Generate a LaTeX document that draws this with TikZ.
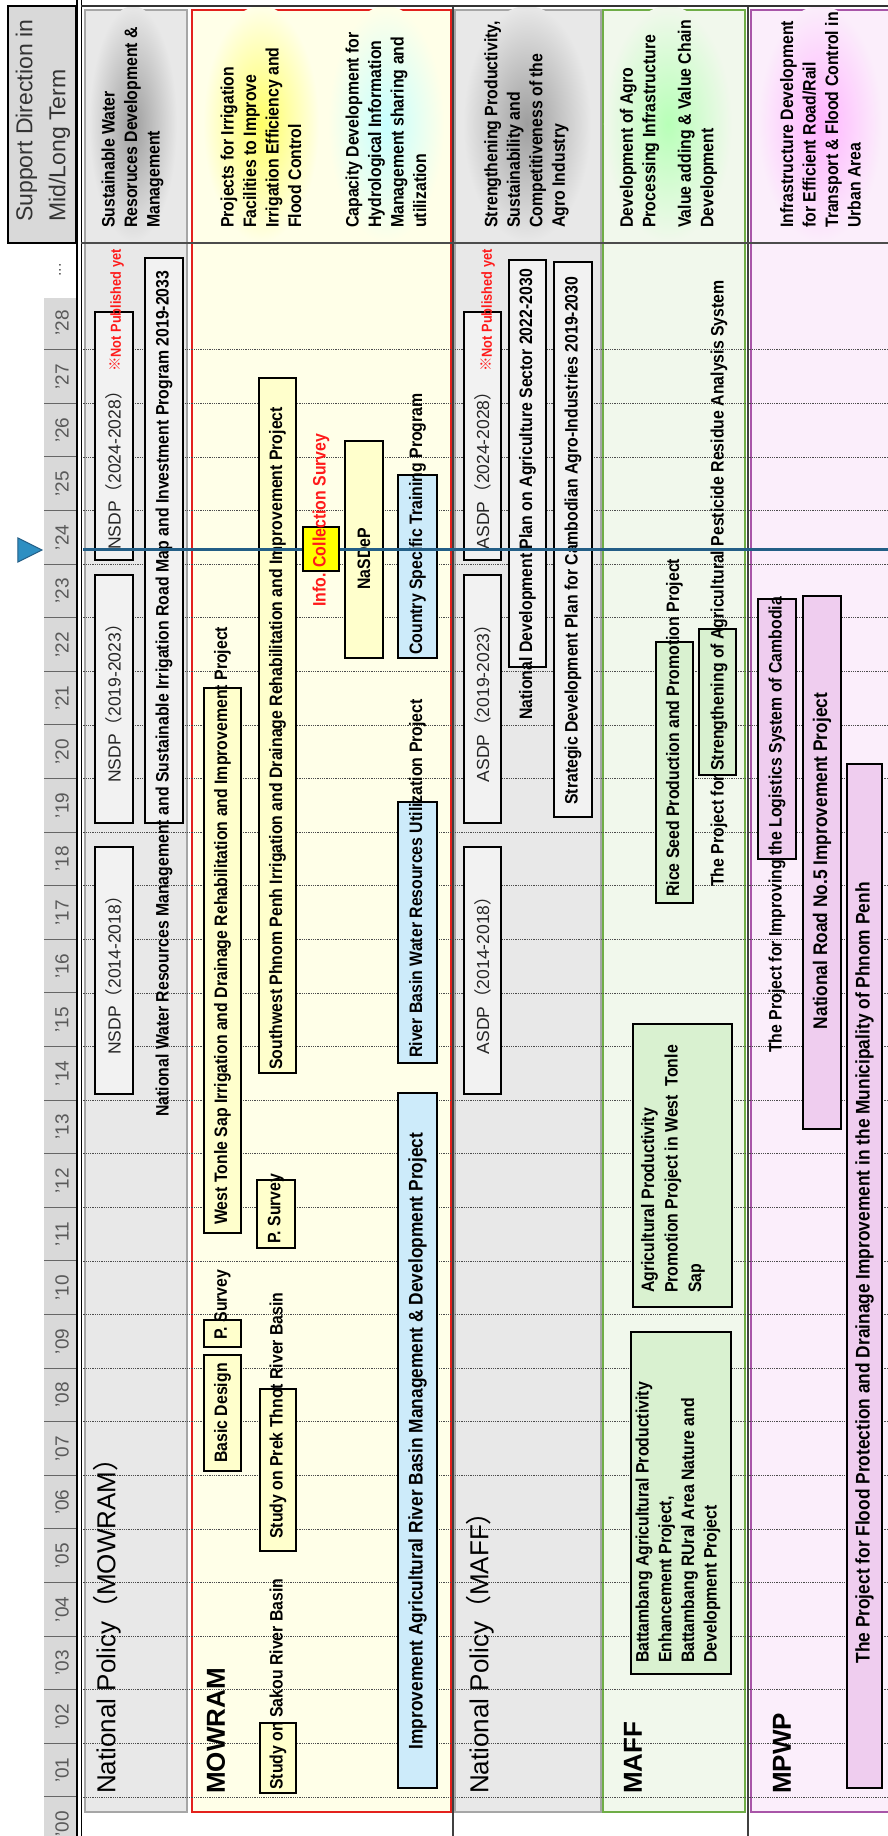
\documentclass[tikz,border=0pt]{standalone}
\usepackage{fontspec}
\setmainfont{Liberation Sans}
\newfontfamily\darfont[FakeStretch=0.88]{Liberation Sans}
\newfontfamily\cjkfont{Noto Sans CJK JP}
\newcommand{\jpL}{{\cjkfont （}}
\newcommand{\jpR}{{\cjkfont ）}}
\definecolor{rowGray}{HTML}{E8E8E8}
\definecolor{rowEdge}{HTML}{A6A6A6}
\definecolor{yearGray}{HTML}{D9D9D9}
\definecolor{yearText}{HTML}{595959}
\definecolor{mowYellow}{HTML}{FFFFE8}
\definecolor{mowRed}{HTML}{E3211C}
\definecolor{boxYellow}{HTML}{FFFFCC}
\definecolor{boxBlue}{HTML}{CDEBFA}
\definecolor{boxGray}{HTML}{F2F2F2}
\definecolor{maffGreen}{HTML}{F1F8EC}
\definecolor{maffEdge}{HTML}{6FAD47}
\definecolor{boxGreen}{HTML}{D9F1D0}
\definecolor{mpwpPink}{HTML}{FBEEFB}
\definecolor{mpwpEdge}{HTML}{A855A8}
\definecolor{boxPink}{HTML}{EFCDEF}
\definecolor{nowBlue}{HTML}{235E86}
\definecolor{markBlue}{HTML}{2E8FC2}
\definecolor{infoYellow}{HTML}{FFFF00}
\definecolor{notRed}{HTML}{FF1A1A}

\begin{document}
\begin{tikzpicture}[x=1pt,y=1pt,rotate=90,transform shape,
  barbox/.style={draw=black,line width=2.2pt},
  proj/.style={inner sep=0pt,font=\darfont\bfseries\fontsize{18}{22}\selectfont},
  projbig/.style={inner sep=0pt,font=\darfont\bfseries\fontsize{19.7}{22}\selectfont},
  headtxt/.style={inner sep=0pt,anchor=west,align=left,font=\darfont\bfseries\fontsize{18}{22.5}\selectfont},
  plan/.style={inner sep=0pt,text=black!85,font=\fontsize{17.5}{20}\selectfont},
  notpub/.style={inner sep=0pt,anchor=west,text=notRed,font=\darfont\bfseries\fontsize{14.5}{16}\selectfont},
  rowlabel/.style={inner sep=0pt,anchor=west,font=\fontsize{26}{30}\selectfont},
  orglabel/.style={inner sep=0pt,anchor=west,font=\bfseries\fontsize{26}{30}\selectfont},
  yearlbl/.style={inner sep=0pt,text=yearText,font=\fontsize{19}{20}\selectfont},
  yearline/.style={densely dotted,line width=0.8pt,black!70}]
\fill[white] (0,0) rectangle (1836,888);
\useasboundingbox (0,0) rectangle (1836,888);

% year band
\fill[yearGray] (0,811) rectangle (1538,844);
\foreach \k in {0,...,27}
  \draw[black!60,line width=1pt] ({39+53.6*\k},811) -- ({39+53.6*\k},844);
\foreach \k in {0,...,28}
  \node[yearlbl] (yr\k) at ({12.2+53.6*\k},826) {'\ifnum\k<10 0\fi\k};
\node[yearlbl,font=\fontsize{16}{18}\selectfont] (dots) at (1566,828) {...};

% rows
\draw[rowEdge,line width=2.5pt,fill=rowGray] (24,701) rectangle (1826,803);
\draw[mowRed,line width=2.5pt,fill=mowYellow] (24,437) rectangle (1826,696);
\draw[rowEdge,line width=2.5pt,fill=rowGray] (24,287) rectangle (1826,433);
\draw[maffEdge,line width=2.5pt,fill=maffGreen] (24,143) rectangle (1826,285);
\draw[mpwpEdge,line width=2.5pt,fill=mpwpPink] (24,-10) rectangle (1826,137);

% glow behind directions
\shade[inner color=black!38,outer color=rowGray] (1712,755) ellipse [x radius=118,y radius=44];
\shade[inner color=yellow!60,outer color=mowYellow] (1712,627) ellipse [x radius=118,y radius=58];
\shade[inner color=cyan!22,outer color=mowYellow] (1712,502) ellipse [x radius=118,y radius=58];
\shade[inner color=black!38,outer color=rowGray] (1712,361) ellipse [x radius=118,y radius=64];
\shade[inner color=green!28,outer color=maffGreen] (1712,220) ellipse [x radius=118,y radius=64];
\shade[inner color=magenta!30,outer color=mpwpPink] (1712,68) ellipse [x radius=118,y radius=62];

% grid
\foreach \k in {0,...,27}
  \draw[yearline] ({39+53.6*\k},0) -- ({39+53.6*\k},807);
\draw[black!75,line width=1.3pt] (0,435) -- (1830,435);
\draw[black!75,line width=1.6pt] (0,140) -- (1830,140);
\draw[black,line width=1.2pt] (0,811) -- (1836,811);
\draw[black,line width=1.2pt] (0,806.5) -- (1836,806.5);
\draw[black!80,line width=1.5pt] (1830,0) -- (1830,807);
\draw[black!70,line width=1.5pt] (1593,0) -- (1593,807);

% header
\draw[black,line width=2pt,fill=yearGray] (1593,812) rectangle (1830,880);
\node[anchor=west,align=left,inner sep=0pt,text=black!80,font=\fontsize{23}{33}\selectfont]
  (supdir) at (1614,845) {Support Direction in\\Mid/Long Term};

\node[headtxt] (hd1) at (1608,755.5) {Sustainable Water\\Resoruces Development \&\\Management};
\node[headtxt] (hd2) at (1608,627) {Projects for Irrigation\\Facilities to Improve\\Irrigation Efficiency and\\Flood Control};
\node[headtxt] (hd3) at (1608,502) {Capacity Development for\\Hydrological Information\\Management sharing and\\utilization};
\node[headtxt] (hd4) at (1608,361.5) {Strengthening Productivity,\\Sustainability and\\Competitiveness of the\\Agro Industry};
\node[headtxt] (hd5) at (1608,248.5) {Development of Agro\\Processing Infrastructure};
\node[headtxt] (hd6) at (1608,190.5) {Value adding \& Value Chain\\Development};
\node[headtxt] (hd7) at (1608,67.5) {Infrastructure Development\\for Efficient Road/Rail\\Transport \& Flood Control in\\Urban Area};

% row labels
\node[rowlabel] (npMow) at (42,781) {National Policy\jpL MOWRAM\jpR};
\node[orglabel] (mowram) at (42,672) {MOWRAM};
\node[rowlabel] (npMaff) at (42,408) {National Policy\jpL MAFF\jpR};
\node[orglabel] (maff) at (42,255) {MAFF};
\node[orglabel] (mpwp) at (42,106) {MPWP};

% national policy boxes
\draw[barbox,fill=boxGray] (742,755) rectangle (989,793);
\draw[barbox,fill=boxGray] (1013,755) rectangle (1261,793);
\draw[barbox,fill=boxGray] (1276,755) rectangle (1524,793);
\draw[barbox,fill=boxGray] (1013,705) rectangle (1578,743);
\draw[barbox,fill=boxGray] (742,387) rectangle (989,424);
\draw[barbox,fill=boxGray] (1013,387) rectangle (1261,424);
\draw[barbox,fill=boxGray] (1276,387) rectangle (1524,424);
\draw[barbox,fill=boxGray] (1169,342) rectangle (1576,379);
\draw[barbox,fill=boxGray] (1019,296) rectangle (1574,334);

% mowram boxes
\draw[barbox,fill=boxYellow] (43,592) rectangle (113,628);
\draw[barbox,fill=boxYellow] (285,592) rectangle (447,628);
\draw[barbox,fill=boxYellow] (365,647) rectangle (481,684);
\draw[barbox,fill=boxYellow] (489,647) rectangle (516,684);
\draw[barbox,fill=boxYellow] (603,647) rectangle (1148,684);
\draw[barbox,fill=boxYellow] (588,593) rectangle (656,631);
\draw[barbox,fill=boxYellow] (763,592) rectangle (1458,629);
\draw[barbox,fill=boxYellow] (1178,505) rectangle (1395,543);
\draw[barbox,fill=boxBlue] (1178,451) rectangle (1361,490);
\draw[barbox,fill=boxBlue] (773,451) rectangle (1034,490);
\draw[barbox,fill=boxBlue] (48,451) rectangle (743,490);

% maff boxes
\draw[barbox,fill=boxGreen] (162,157) rectangle (504,257);
\draw[barbox,fill=boxGreen] (529,156) rectangle (812,255);
\draw[barbox,fill=boxGreen] (933,195) rectangle (1194,232);
\draw[barbox,fill=boxGreen] (1061,152) rectangle (1207,189);

% mpwp boxes
\draw[barbox,fill=boxPink] (48,6) rectangle (1072,41);
\draw[barbox,fill=boxPink] (707,47) rectangle (1240,85);
\draw[barbox,fill=boxPink] (977,92) rectangle (1237,130);

% texts
\node[plan] (nsdp1) at (865,774) {NSDP\jpL 2014-2018\jpR};
\node[plan] (nsdp2) at (1137,774) {NSDP\jpL 2019-2023\jpR};
\node[plan] (nsdp3) at (1370,774) {NSDP\jpL 2024-2028\jpR};
\node[notpub] (npub1) at (1464,771) {{\cjkfont ※}Not Published yet};
\node[proj,anchor=west] (nwrm) at (719,724) {National Water Resources Management and Sustainable Irrigation Road Map and Investment Program 2019-2033};
\node[plan] (asdp1) at (865,405.5) {ASDP\jpL 2014-2018\jpR};
\node[plan] (asdp2) at (1137,405.5) {ASDP\jpL 2019-2023\jpR};
\node[plan] (asdp3) at (1370,405.5) {ASDP\jpL 2024-2028\jpR};
\node[notpub] (npub2) at (1464,400) {{\cjkfont ※}Not Published yet};
\node[proj,anchor=west] (ndpa) at (1116,360.5) {National Development Plan on Agriculture Sector 2022-2030};
\node[proj,anchor=west] (sdpa) at (1031,315) {Strategic Development Plan for Cambodian Agro-Industries 2019-2030};

\node[proj,anchor=west] (sakou) at (46,610) {Study on Sakou River Basin};
\node[proj,anchor=west] (prek) at (297,610) {Study on Prek Thnot River Basin};
\node[proj] (basic) at (423,665.5) {Basic Design};
\node[proj,anchor=west] (psv1) at (496,665.5) {P. Survey};
\node[proj,anchor=west] (wtsap) at (611,665.5) {West Tonle Sap Irrigation and Drainage Rehabilitation and Improvement Project};
\node[proj,anchor=west] (psv2) at (592,612) {P. Survey};
\node[proj,anchor=west] (swpp) at (766,610.5) {Southwest Phnom Penh Irrigation and Drainage Rehabilitation and Improvement Project};
\node[proj] (nasdep) at (1277,524) {NaSDeP};
\node[proj,anchor=west] (cstp) at (1181,470.5) {Country Specific Training Program};
\node[proj,anchor=west] (rbwr) at (778,470.5) {River Basin Water Resources Utilization Project};
\node[projbig] (iarb) at (395,470.5) {Improvement Agricultural River Basin Management \& Development Project};

\node[proj,anchor=west,align=left,font=\darfont\bfseries\fontsize{18}{22.7}\selectfont] (batt) at (173,210)
  {Battambang Agricultural Productivity\\Enhancement Project,\\Battambang RUral Area Nature and\\Development Project};
\node[proj,anchor=west,align=left,font=\darfont\bfseries\fontsize{18}{23.5}\selectfont] (apwt) at (543,215)
  {Agricultural Productivity\\Promotion Project in West\ \ Tonle\\Sap};
\node[proj,anchor=west] (rice) at (939,213.5) {Rice Seed Production and Promotion Project};
\node[proj,anchor=west] (pest) at (949,169) {The Project for Strengthening of Agricultural Pesticide Residue Analysis System};

\node[projbig] (flood) at (563,23.5) {The Project for Flood Protection and Drainage Improvement in the Municipality of Phnom Penh};
\node[projbig] (road5) at (975,66) {National Road No.5 Improvement Project};
\node[proj,anchor=west] (logi) at (783,111) {The Project for Improving the Logistics System of Cambodia};

% now line
\draw[nowBlue,line width=3pt] (1286,0) -- (1286,805);
\draw[barbox,fill=infoYellow] (1265,549) rectangle (1309,585);
\node[proj,anchor=west,text=notRed] (info) at (1229,567) {Info. Collection Survey};
\filldraw[fill=markBlue,draw=nowBlue,line width=1pt] (1274,870) -- (1298,870) -- (1286,846) -- cycle;
\end{tikzpicture}
\end{document}
